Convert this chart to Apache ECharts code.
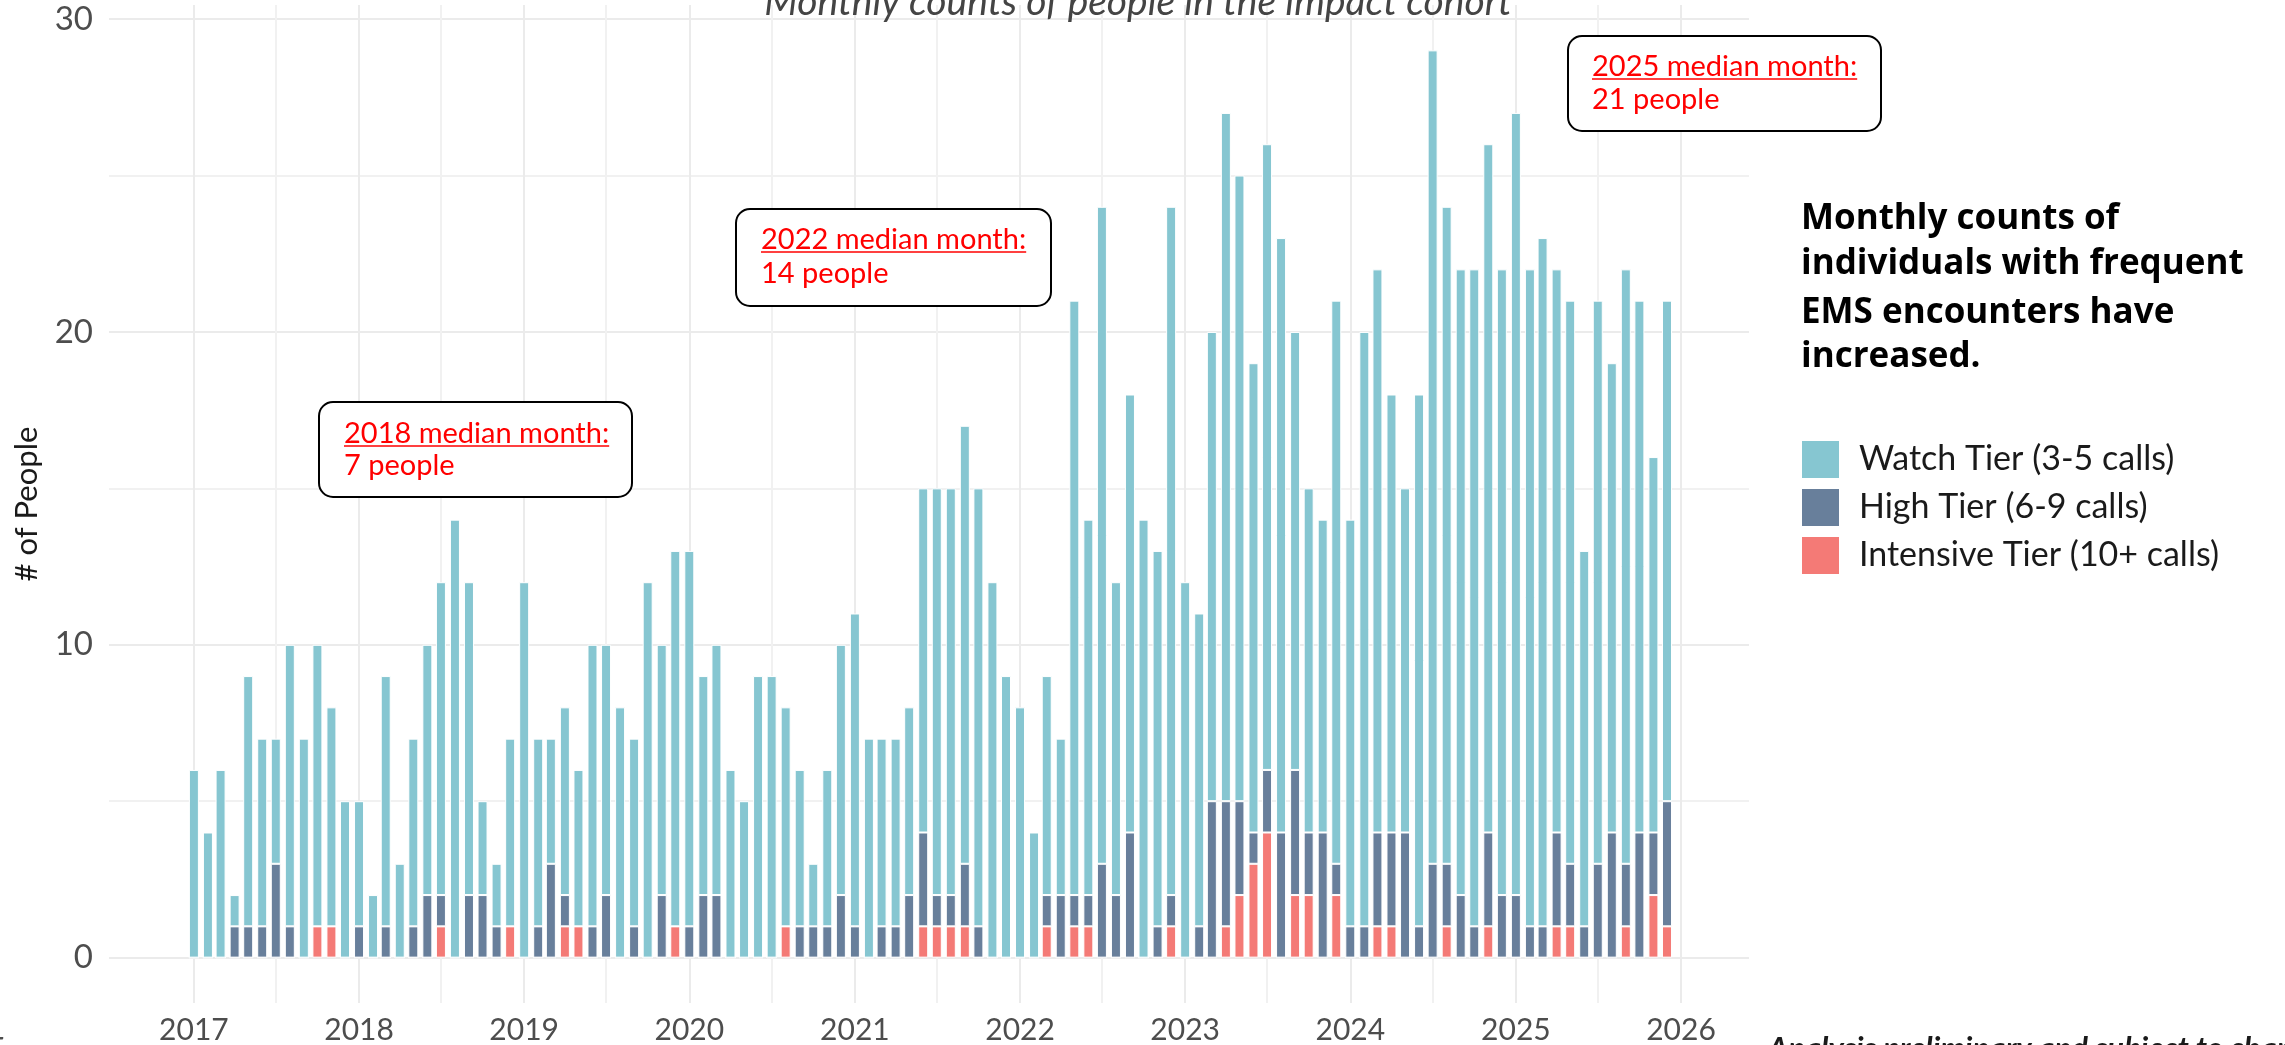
<!DOCTYPE html>
<html>
<head>
<meta charset="utf-8">
<script src="https://cdn.jsdelivr.net/npm/echarts@6/dist/echarts.min.js"></script>
<style>
html,body{margin:0;padding:0;background:#fff;}
#c{width:2285px;height:1045px;}
</style>
</head>
<body>
<div id="c"></div>
<script>
// ---------------- DATA ----------------
const months = [];
for (let y = 2017; y <= 2025; y++) for (let m = 1; m <= 12; m++) months.push(y + '-' + String(m).padStart(2, '0'));

const watch = [
  6,4,6,1,8,6,4,9,7,9,7,5,
  4,2,8,3,6,8,10,14,10,3,2,6,
  12,6,4,6,5,9,8,8,6,12,8,12,
  12,7,8,6,5,9,9,7,5,2,5,8,
  10,7,6,6,6,11,13,13,14,14,12,9,
  8,4,7,5,19,12,21,10,14,14,12,22,
  12,10,15,22,20,15,20,19,14,11,10,18,
  13,19,18,14,11,17,26,21,20,21,22,20,
  25,21,22,18,18,12,18,15,19,17,12,16
];
const high = [
  0,0,0,1,1,1,3,1,0,0,0,0,
  1,0,1,0,1,2,1,0,2,2,1,0,
  0,1,3,1,0,1,2,0,1,0,2,0,
  1,2,2,0,0,0,0,0,1,1,1,2,
  1,0,1,1,2,3,1,1,2,1,0,0,
  0,0,1,2,1,1,3,2,4,0,1,1,
  0,1,5,4,3,1,2,4,4,2,4,1,
  1,1,3,3,4,1,3,2,2,1,3,2,
  2,1,1,3,2,1,3,4,2,4,2,4
];
const intensive = [
  0,0,0,0,0,0,0,0,0,1,1,0,
  0,0,0,0,0,0,1,0,0,0,0,1,
  0,0,0,1,1,0,0,0,0,0,0,1,
  0,0,0,0,0,0,0,1,0,0,0,0,
  0,0,0,0,0,1,1,1,1,0,0,0,
  0,0,1,0,1,1,0,0,0,0,0,1,
  0,0,0,1,2,3,4,0,2,2,0,2,
  0,0,1,1,0,0,0,1,0,0,1,0,
  0,0,0,1,1,0,0,0,1,0,2,1
];
const seriesNames = ['Watch Tier (3-5 calls)', 'High Tier (6-9 calls)', 'Intensive Tier (10+ calls)'];
const yearLabels = ['2017','2018','2019','2020','2021','2022','2023','2024','2025','2026'];
const yTickValues = [0, 10, 20, 30];
const yMinorValues = [5, 15, 25];
const annotations = [
  { head: '2018 median month:', body: '7 people' },
  { head: '2022 median month:', body: '14 people' },
  { head: '2025 median month:', body: '21 people' }
];
const titleText = 'Monthly counts of people in the impact cohort';
const sideText = ['Monthly counts of', 'individuals with frequent', 'EMS encounters have', 'increased.'];
const footerText = 'Analysis preliminary and subject to change';
const yAxisName = '# of People';

// ---------------- CHART ----------------
const colors = { watch: '#86c6d1', high: '#687f9b', intensive: '#f47a76' };
const chart = echarts.init(document.getElementById('c'), null, { renderer: 'canvas', width: 2285, height: 1045 });

const DAY = 86400000;
const monthTime = months.map(s => { const [y, m] = s.split('-').map(Number); return Date.UTC(y, m - 1, 1); });
const pairs = arr => arr.map((v, i) => [monthTime[i], v]);
const majorX = yearLabels.map(y => Date.UTC(+y, 0, 1));
const minorX = yearLabels.slice(0, -1).map(y => Date.UTC(+y, 6, 1));
const xMin = Date.UTC(2017, 0, 1) - 176.6 * DAY;
const xMax = Date.UTC(2026, 0, 1) + 139.2 * DAY;

const gridCol = '#ebebeb';
const gridLines = [
  ...yTickValues.map(v => ({ yAxis: v, lineStyle: { color: gridCol, width: 2, type: 'solid' }, label: { show: false } })),
  ...yMinorValues.map(v => ({ yAxis: v, lineStyle: { color: '#f1f1f1', width: 2, type: 'solid' }, label: { show: false } })),
  ...majorX.map((v, i) => ({ xAxis: v, lineStyle: { color: gridCol, width: 2, type: 'solid' },
    label: { show: true, position: 'start', formatter: yearLabels[i], distance: 12,
      fontSize: 30, color: '#4d4d4d', fontFamily: 'Lato' } })),
  ...minorX.map(v => ({ xAxis: v, lineStyle: { color: '#f1f1f1', width: 2, type: 'solid' }, label: { show: false } }))
];

const ctx = document.createElement('canvas').getContext('2d');
function textW(font, s) { ctx.font = font; return ctx.measureText(s).width; }

const annFont = 29;
const annBoxes = [
  { x: 319, y: 402, w: 313, h: 95, tx: 344, l1: 434, l2: 466 },
  { x: 736, y: 209, w: 315, h: 97, tx: 761, l1: 240, l2: 274 },
  { x: 1568, y: 36, w: 313, h: 95, tx: 1592, l1: 67, l2: 100 }
];
const graphics = [];
annotations.forEach((a, i) => {
  const b = annBoxes[i];
  graphics.push({ type: 'rect', shape: { x: b.x, y: b.y, width: b.w, height: b.h, r: 14 },
    style: { fill: '#fff', stroke: '#000', lineWidth: 2 }, z: 100 });
  graphics.push({ type: 'text', x: b.tx, y: b.l1, z: 101,
    style: { text: a.head, fill: '#ff0000', font: annFont + 'px Lato', verticalAlign: 'middle' } });
  const w = textW(annFont + 'px Lato', a.head);
  graphics.push({ type: 'line', z: 101, shape: { x1: b.tx, y1: b.l1 + 12, x2: b.tx + w, y2: b.l1 + 12 },
    style: { stroke: '#ff0000', lineWidth: 1.5 } });
  graphics.push({ type: 'text', x: b.tx, y: b.l2, z: 101,
    style: { text: a.body, fill: '#ff0000', font: annFont + 'px Lato', verticalAlign: 'middle' } });
});
// subtitle at top (cut off)
graphics.push({ type: 'text', x: 1138, y: 2, z: 101,
  style: { text: titleText, fill: '#444', font: 'italic 39px Lato', align: 'center', verticalAlign: 'middle' } });
// side text
const sideY = [219, 264, 313, 357];
sideText.forEach((s, i) => graphics.push({ type: 'text', x: 1801, y: sideY[i], z: 101,
  style: { text: s, fill: '#000', font: 'bold 35px "Open Sans"', verticalAlign: 'middle' } }));
// footer
graphics.push({ type: 'text', x: 1768, y: 1049, z: 101,
  style: { text: footerText, fill: '#1a1a1a', font: 'italic bold 31px Lato', verticalAlign: 'middle' } });
graphics.push({ type: 'text', x: 6, y: 1049, z: 101,
  style: { text: '5', fill: '#4d4d4d', font: '31px Lato', align: 'right', verticalAlign: 'middle' } });

const barCommon = { type: 'bar', stack: 'total', barWidth: 10, animation: false,
  emphasis: { disabled: true } };

const option = {
  animation: false,
  backgroundColor: '#fff',
  textStyle: { fontFamily: 'Lato' },
  grid: { left: 109, top: 5, width: 1640, height: 998, containLabel: false },
  xAxis: {
    type: 'time', min: xMin, max: xMax,
    axisLine: { show: false }, axisTick: { show: false }, splitLine: { show: false },
    axisLabel: { show: false }
  },
  yAxis: {
    type: 'value', min: -1.45, max: 30.45,
    name: yAxisName, nameLocation: 'middle', nameRotate: 90, nameGap: 67,
    nameTextStyle: { fontSize: 31, color: '#1a1a1a', fontFamily: 'Lato' },
    axisLine: { show: false }, axisTick: { show: false }, splitLine: { show: false },
    axisLabel: { customValues: yTickValues, fontSize: 33, color: '#4d4d4d', margin: 16, fontFamily: 'Lato' }
  },
  legend: {
    data: seriesNames, orient: 'vertical', left: 1800, top: 439, padding: 0,
    itemWidth: 39, itemHeight: 39, itemGap: 7, icon: 'rect', selectedMode: false,
    textStyle: { fontSize: 34, color: '#1a1a1a', fontFamily: 'Lato', padding: [0, 0, 0, 14] }
  },
  series: [
    Object.assign({}, barCommon, { name: seriesNames[2], data: pairs(intensive),
      itemStyle: { color: colors.intensive, borderColor: '#fff', borderWidth: 1 },
      markLine: { silent: true, symbol: 'none', z: 1, animation: false,
        emphasis: { disabled: true }, data: gridLines } }),
    Object.assign({}, barCommon, { name: seriesNames[1], data: pairs(high),
      itemStyle: { color: colors.high, borderColor: '#fff', borderWidth: 1 } }),
    Object.assign({}, barCommon, { name: seriesNames[0], data: pairs(watch),
      itemStyle: { color: colors.watch, borderColor: '#fff', borderWidth: 1 } })
  ],
  graphic: graphics
};
chart.setOption(option);
</script>
</body>
</html>
